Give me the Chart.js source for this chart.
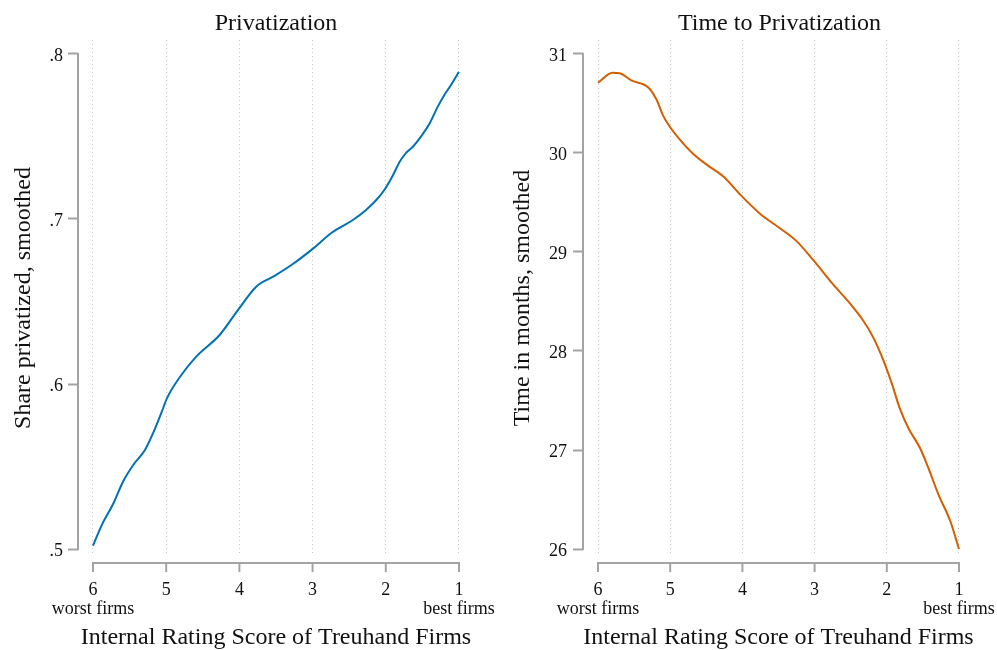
<!DOCTYPE html>
<html><head><meta charset="utf-8">
<script src="https://cdn.jsdelivr.net/npm/chart.js@4/dist/chart.umd.min.js"></script>
<style>
html,body{margin:0;padding:0;background:#fff;}
#wrap{position:relative;width:997px;height:650px;overflow:hidden;}
.panel{position:absolute;top:0;height:650px;}
</style></head><body>
<div id="wrap">
<div class="panel" style="left:0;width:498px"><canvas id="c1"></canvas></div>
<div class="panel" style="left:498px;width:499px"><canvas id="c2"></canvas></div>
</div>
<script>
// ---- data ----
const xTicks = [6, 5, 4, 3, 2, 1];
const xTickLabels = [['6', 'worst firms'], ['5'], ['4'], ['3'], ['2'], ['1', 'best firms']];
const xTitle = 'Internal Rating Score of Treuhand Firms';

const privTitle = 'Privatization';
const privYTitle = 'Share privatized, smoothed';
const privYTicks = [0.5, 0.6, 0.7, 0.8];
const privYTickLabels = ['.5', '.6', '.7', '.8'];
const privRating = [6.00, 5.88, 5.72, 5.59, 5.45, 5.29, 5.18, 5.06, 4.99, 4.81, 4.59, 4.27, 4.02, 3.77, 3.52, 3.27, 2.99, 2.74, 2.45, 2.27, 2.13, 2.02, 1.90, 1.81, 1.72, 1.63, 1.52, 1.40, 1.29, 1.20, 1.11, 1.00];
const privShare  = [.502, .5145, .5277, .5408, .5509, .560, .5701, .5832, .5913, .6044, .6166, .6297, .6448, .659, .6655, .6727, .6822, .6917, .6994, .7055, .7115, .7176, .7267, .7347, .7402, .7438, .7499, .758, .7681, .7752, .7812, .7893];

const timeTitle = 'Time to Privatization';
const timeYTitle = 'Time in months, smoothed';
const timeYTicks = [26, 27, 28, 29, 30, 31];
const timeYTickLabels = ['26', '27', '28', '29', '30', '31'];
const timeRating = [6.00, 5.80, 5.70, 5.53, 5.30, 5.19, 5.10, 5.00, 4.86, 4.68, 4.49, 4.26, 4.03, 3.76, 3.48, 3.25, 3.02, 2.74, 2.51, 2.33, 2.19, 2.05, 1.93, 1.82, 1.70, 1.54, 1.43, 1.29, 1.12, 1.00];
const timeMonths = [30.71, 30.81, 30.805, 30.73, 30.66, 30.54, 30.38, 30.26, 30.13, 29.99, 29.88, 29.76, 29.58, 29.39, 29.24, 29.11, 28.92, 28.67, 28.48, 28.31, 28.14, 27.91, 27.67, 27.42, 27.22, 27.02, 26.83, 26.56, 26.28, 26.00];

// ---- style ----
const FONT = "'Liberation Serif', 'Times New Roman', serif";
const TEXT = '#111111';
const AXIS = '#a3a3a3';

const axisPlugin = {
  id: 'stataAxes',
  afterDraw(chart, args, opts) {
    const {ctx, chartArea, scales: {x, y}} = chart;
    ctx.save();
    ctx.strokeStyle = AXIS;
    ctx.lineWidth = 2;
    ctx.lineCap = 'butt';
    const yt = y.ticks.map(t => y.getPixelForValue(t.value));
    ctx.beginPath();
    ctx.moveTo(chartArea.left, Math.min(...yt) - 1);
    ctx.lineTo(chartArea.left, Math.max(...yt) + 1);
    ctx.stroke();
    const ay = chartArea.bottom + opts.gap;
    const xt = x.ticks.map(t => x.getPixelForValue(t.value));
    ctx.beginPath();
    ctx.moveTo(Math.min(...xt) - 1, ay);
    ctx.lineTo(Math.max(...xt) + 1, ay);
    ctx.stroke();
    xt.forEach(px => {
      ctx.beginPath();
      ctx.moveTo(px, ay);
      ctx.lineTo(px, ay + opts.tick);
      ctx.stroke();
    });
    ctx.fillStyle = TEXT;
    ctx.font = '24px ' + FONT;
    ctx.textAlign = 'center';
    ctx.textBaseline = 'middle';
    ctx.fillText(opts.title, (chartArea.left + chartArea.right) / 2 + (opts.titleShift || 0), 23.4);
    ctx.restore();
  }
};

function makeChart(id, cfg) {
  const ds = cfg.xs.map((v, i) => ({x: v, y: cfg.ys[i]}));
  return new Chart(document.getElementById(id), {
    type: 'line',
    data: {datasets: [{data: ds, borderColor: cfg.color, borderWidth: 2, pointRadius: 0, cubicInterpolationMode: 'monotone', fill: false}]},
    plugins: [axisPlugin],
    options: {
      responsive: true, maintainAspectRatio: false, animation: false, devicePixelRatio: 1,
      layout: {padding: {top: 40, right: cfg.padRight, left: 0, bottom: 0}},
      plugins: {legend: {display: false}, tooltip: {enabled: false}, title: {display: false},
        stataAxes: {gap: 7, tick: 9, title: cfg.title, titleShift: cfg.titleShift}},
      scales: {
        x: {
          type: 'linear', reverse: true, min: cfg.xmin, max: cfg.xmax,
          afterBuildTicks: s => { s.ticks = xTicks.map(v => ({value: v})); },
          afterFit: s => { s.height = 94; s.paddingLeft = 0; s.paddingRight = 0; },
          ticks: {autoSkip: false, maxRotation: 0, padding: 25, color: TEXT,
            font: {family: FONT, size: 18, lineHeight: 1.05},
            callback: v => { const i = xTicks.indexOf(v); return i >= 0 ? xTickLabels[i] : ''; }},
          grid: {display: true, drawOnChartArea: true, drawTicks: false, tickLength: 0, color: '#c4c4c4', lineWidth: 1},
          border: {display: false, dash: [1, 3]},
          title: {display: true, text: xTitle, color: TEXT, font: {family: FONT, size: 24, lineHeight: 1.0}, padding: {top: 0, bottom: 0}}
        },
        y: {
          type: 'linear', min: cfg.ymin, max: cfg.ymax,
          afterBuildTicks: s => { s.ticks = cfg.yTicks.map(v => ({value: v})); },
          afterFit: s => { s.width = cfg.yWidth; s.paddingTop = 0; s.paddingBottom = 0; },
          ticks: {padding: cfg.yTickPad, labelOffset: 2, color: TEXT, font: {family: FONT, size: 18},
            callback: v => { const i = cfg.yTicks.indexOf(v); return i >= 0 ? cfg.yLabels[i] : ''; }},
          grid: {drawOnChartArea: false, drawTicks: true, tickLength: 10, tickColor: AXIS, tickWidth: 2},
          border: {display: false},
          title: {display: true, text: cfg.yTitle, color: TEXT, font: {family: FONT, size: 24, lineHeight: 1.2}, padding: {top: cfg.yTitlePad, bottom: 0}}
        }
      }
    }
  });
}

makeChart('c1', {
  xs: privRating, ys: privShare, color: '#0072B2', title: privTitle, titleShift: 0,
  yTitle: privYTitle, yTicks: privYTicks, yLabels: privYTickLabels,
  xmin: 0.795, xmax: 6.2046, ymin: 0.49576, ymax: 0.80848,
  yWidth: 78, padRight: 24, yTickPad: 5, yTitlePad: 9.4
});
makeChart('c2', {
  xs: timeRating, ys: timeMonths, color: '#D55E00', title: timeTitle, titleShift: 1,
  yTitle: timeYTitle, yTicks: timeYTicks, yLabels: timeYTickLabels,
  xmin: 0.7922, xmax: 6.2078, ymin: 25.9293, ymax: 31.1414,
  yWidth: 85, padRight: 23, yTickPad: 6, yTitlePad: 10.8
});
</script>
</body></html>
